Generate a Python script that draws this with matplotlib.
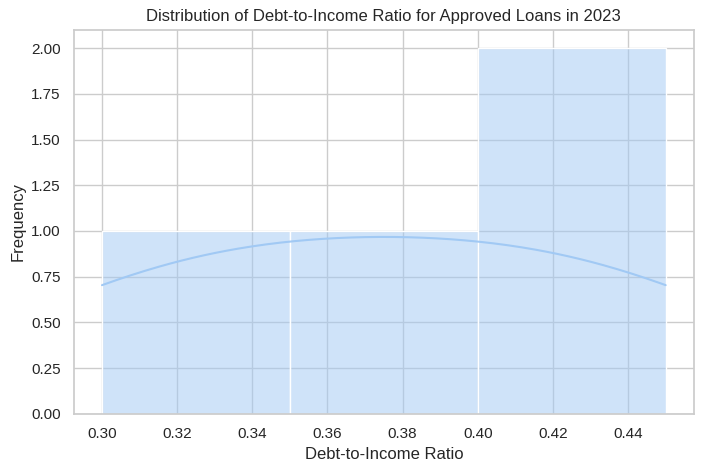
import matplotlib
matplotlib.use("Agg")
import matplotlib.pyplot as plt
import seaborn as sns
import pandas as pd

# debt-to-income ratios of approved loans
dti_ratio = [0.30, 0.35, 0.40, 0.45]

df = pd.DataFrame({"Debt-to-Income Ratio": dti_ratio})

sns.set_theme(style="whitegrid", palette="pastel")
plt.rcParams["font.family"] = ["Liberation Sans", "DejaVu Sans"]

fig, ax = plt.subplots(figsize=(7.03, 4.73), dpi=100)
sns.histplot(data=df, x="Debt-to-Income Ratio", kde=True, ax=ax)
ax.set_title("Distribution of Debt-to-Income Ratio for Approved Loans in 2023")
ax.set_xlabel("Debt-to-Income Ratio")
ax.set_ylabel("Frequency")
fig.subplots_adjust(left=0.105, right=0.987, top=0.937, bottom=0.125)
fig.savefig("out.png")
